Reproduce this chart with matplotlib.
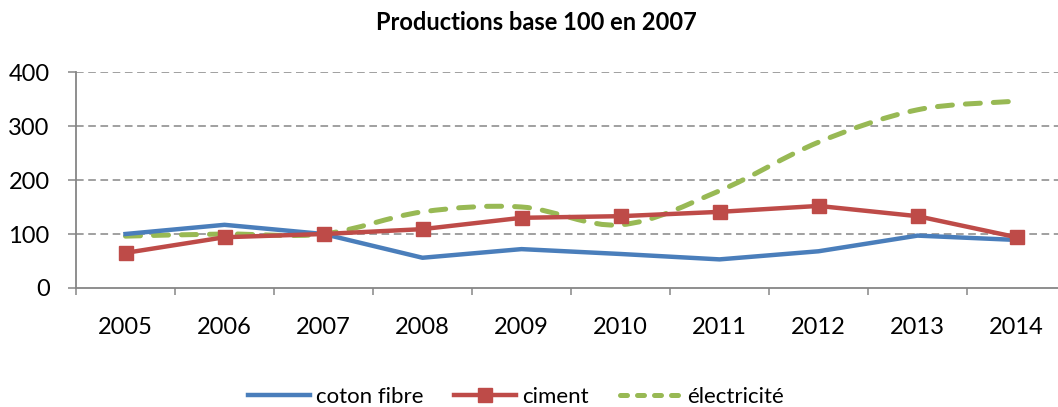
import matplotlib
matplotlib.use("Agg")
import matplotlib.pyplot as plt
from matplotlib.path import Path
from matplotlib.patches import PathPatch
from matplotlib.lines import Line2D

years = ["2005", "2006", "2007", "2008", "2009", "2010", "2011", "2012", "2013", "2014"]
coton = [100, 117, 100, 56, 72, 63, 53, 68, 97, 89]
ciment = [65, 94, 100, 109, 130, 133, 141, 152, 133, 94]
electricite = [96, 100, 100, 141, 150, 117, 180, 270, 330, 346]
yticks = [0, 100, 200, 300, 400]

BLUE = "#4A7EBB"
RED = "#BE4B48"
GREEN = "#98B954"
GRAY = "#868686"

plt.rcParams['font.family'] = ['Lato', 'DejaVu Sans']


def smooth_path(xs, ys):
    # excel-like smoothed line: cubic bezier through the points
    pts = list(zip(xs, ys))
    n = len(pts)
    verts = [pts[0]]
    codes = [Path.MOVETO]
    for i in range(n - 1):
        p0 = pts[i - 1] if i > 0 else pts[i]
        p1 = pts[i]
        p2 = pts[i + 1]
        p3 = pts[i + 2] if i + 2 < n else pts[i + 1]
        c1 = (p1[0] + (p2[0] - p0[0]) / 6, p1[1] + (p2[1] - p0[1]) / 6)
        c2 = (p2[0] - (p3[0] - p1[0]) / 6, p2[1] - (p3[1] - p1[1]) / 6)
        verts += [c1, c2, p2]
        codes += [Path.CURVE4] * 3
    return Path(verts, codes)


fig = plt.figure(figsize=(10.58, 4.07), dpi=100)
ax = fig.add_axes([76 / 1058, (407 - 288) / 407, 990 / 1058, 216 / 407])

x = list(range(len(years)))

for y in yticks[1:]:
    ax.axhline(y, color=GRAY, lw=1.1, ls=(0, (5, 3)), zorder=1)

ax.plot(x, coton, color=BLUE, lw=3.2, zorder=3, solid_joinstyle='round')
ax.plot(x, ciment, color=RED, lw=3.2, marker='s', markersize=10, zorder=4)

dash = (0, (3, 2.6))
patch = PathPatch(smooth_path(x, electricite), fill=False, edgecolor=GREEN,
                  lw=3.6, zorder=2, capstyle='round')
patch.set_linestyle(dash)
ax.add_patch(patch)

ax.set_xlim(-0.5, len(years) - 0.5)
ax.set_ylim(0, 400)
ax.set_yticks(yticks)
ax.set_yticklabels([str(v) for v in yticks], fontsize=17)
ax.set_xticks([i + 0.5 for i in range(-1, len(years))], minor=False)
ax.set_xticklabels([])
ax.set_xticks(x, minor=True)
ax.set_xticklabels(years, minor=True, fontsize=17)
ax.tick_params(axis='x', which='major', length=5, color=GRAY, width=1.1, direction='out')
ax.tick_params(axis='x', which='minor', length=0, pad=21)
ax.tick_params(axis='y', length=6, color=GRAY, width=1.1, pad=13)

for s in ['top', 'right']:
    ax.spines[s].set_visible(False)
for s in ['left', 'bottom']:
    ax.spines[s].set_color(GRAY)
    ax.spines[s].set_linewidth(1.3)

fig.text(536 / 1058, 1 - 22 / 407, "Productions base 100 en 2007", ha='center', va='center',
         fontsize=17, fontweight='bold')

handles = [
    Line2D([], [], color=BLUE, lw=3.2),
    Line2D([], [], color=RED, lw=3.2, marker='s', markersize=10),
    Line2D([], [], color=GREEN, lw=3.6, ls=(0, (1.4, 2.0)), dash_capstyle='round'),
]
fig.legend(handles, ["coton fibre", "ciment", "électricité"], loc='center',
           bbox_to_anchor=(516 / 1058, 1 - 397 / 407), ncol=3, frameon=False, fontsize=16,
           handlelength=2.8, columnspacing=1.4, handletextpad=0.25)

fig.savefig("out.png", dpi=100)
